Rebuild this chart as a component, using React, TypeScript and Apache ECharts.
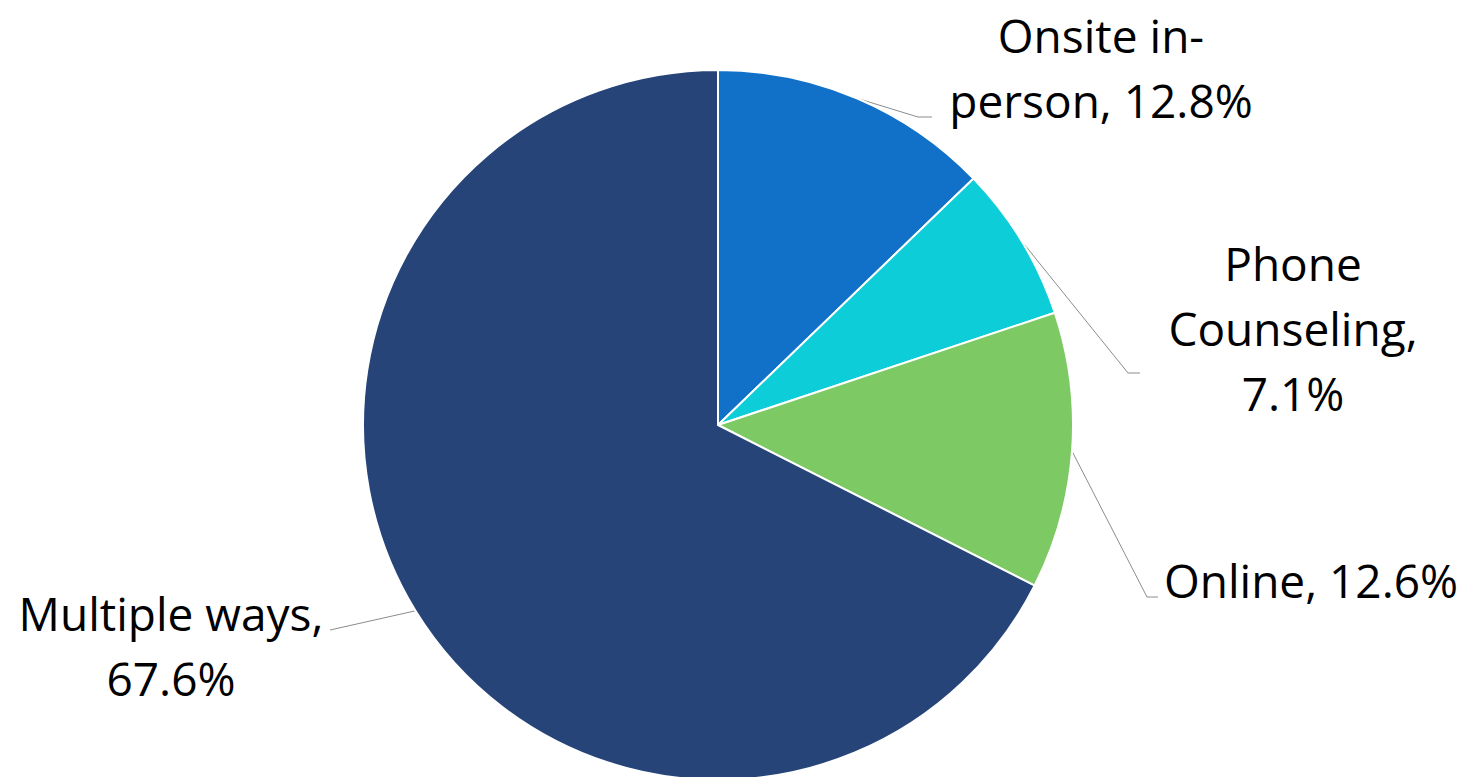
import React, { useEffect, useRef } from "react";
import * as echarts from "echarts";

const categories = ["Onsite in-\nperson", "Phone\nCounseling", "Online", "Multiple ways"];
const values = [12.8, 7.1, 12.6, 67.6];
const labelTexts = ["Onsite in-\nperson, 12.8%", "Phone\nCounseling,\n7.1%", "Online, 12.6%", "Multiple ways,\n67.6%"];
const colors = ["#1170C8", "#0DCDD9", "#7DC964", "#264478"];

// label layout (positions in px)
const labelPos = [
  { x: 1101, y: 67, elbow: [918, 117], end: [932, 117] },
  { x: 1293, y: 328, elbow: [1128, 373], end: [1140, 373] },
  { x: 1311, y: 580, elbow: [1147, 597], end: [1158, 597] },
  { x: 171, y: 645, elbow: [330, 630], end: [330, 630] },
];

export default function App() {
  const ref = useRef<HTMLDivElement>(null);
  useEffect(() => {
    if (!ref.current) return;
    const chart = echarts.init(ref.current, null, { renderer: "svg" });
    chart.setOption({
      animation: false,
      backgroundColor: "#ffffff",
      series: [
        {
          type: "pie",
          center: [718, 425],
          radius: 355,
          startAngle: 90,
          clockwise: true,
          avoidLabelOverlap: false,
          itemStyle: { borderColor: "#ffffff", borderWidth: 2 },
          label: {
            show: true,
            formatter: (p: any) => labelTexts[p.dataIndex],
            fontFamily: "Open Sans",
            fontSize: 46,
            lineHeight: 65,
            color: "#000000",
            align: "center",
          },
          labelLine: {
            show: true,
            length: 20,
            length2: 10,
            lineStyle: { color: "#8c8c8c", width: 1 },
          },
          labelLayout: (params: any) => {
            const lp = labelPos[params.dataIndex];
            const start = params.labelLinePoints ? params.labelLinePoints[0] : lp.elbow;
            return {
              x: lp.x,
              y: lp.y,
              align: "center",
              verticalAlign: "middle",
              labelLinePoints: [start, lp.elbow, lp.end],
            };
          },
          data: categories.map((c, i) => ({
            name: c,
            value: values[i],
            itemStyle: { color: colors[i] },
          })),
        },
      ],
    });
    return () => chart.dispose();
  }, []);
  return (
    <div
      ref={ref}
      style={{ position: "absolute", left: 0, top: 0, width: 1468, height: 777 }}
    />
  );
}
